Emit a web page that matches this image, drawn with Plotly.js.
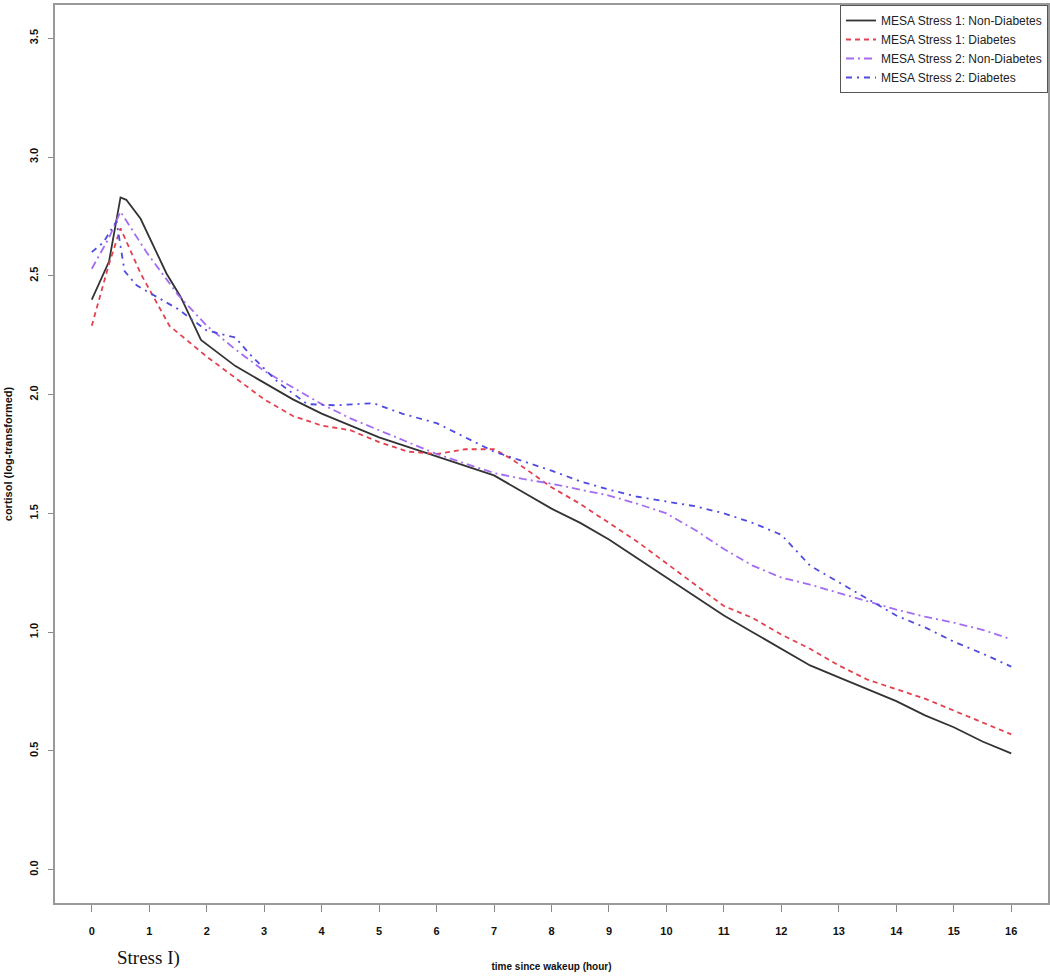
<!DOCTYPE html>
<html>
<head>
<meta charset="utf-8">
<script src="https://cdn.plot.ly/plotly-3.0.1.min.js"></script>
<style>html,body{margin:0;padding:0;background:#fff;}#chart{width:1050px;height:976px;}</style>
</head>
<body>
<div id="chart"></div>
<script>
// Data
const seriesNames = [
  "MESA Stress 1: Non-Diabetes",
  "MESA Stress 1: Diabetes",
  "MESA Stress 2: Non-Diabetes",
  "MESA Stress 2: Diabetes"
];

const s1NonDiabT = [0,0.3,0.5,0.6,0.85,1.3,1.55,1.9,2.5,3,3.5,4,4.5,5,5.5,6,6.5,7,7.5,8,8.5,9,9.5,10,10.5,11,11.5,12,12.5,13,13.5,14,14.5,15,15.5,16];
const s1NonDiabV = [2.40,2.56,2.83,2.82,2.74,2.51,2.41,2.23,2.12,2.05,1.98,1.92,1.87,1.82,1.78,1.74,1.70,1.66,1.59,1.52,1.46,1.39,1.31,1.23,1.15,1.07,1.00,0.93,0.86,0.81,0.76,0.71,0.65,0.60,0.54,0.49];

const s1DiabT = [0,0.3,0.5,0.85,1.35,2,2.5,3,3.5,4,4.5,5,5.5,6,6.5,7,7.3,7.6,8,8.5,9,9.5,10,10.5,11,11.5,12,12.5,13,13.5,14,14.5,15,15.5,16];
const s1DiabV = [2.29,2.55,2.70,2.51,2.29,2.16,2.07,1.98,1.91,1.87,1.85,1.80,1.76,1.75,1.77,1.77,1.73,1.68,1.61,1.54,1.46,1.38,1.29,1.20,1.11,1.06,0.99,0.93,0.86,0.80,0.76,0.72,0.67,0.62,0.57];

const s2NonDiabT = [0,0.3,0.5,0.95,1.5,2,2.5,3,3.5,4,4.5,5,5.5,6,6.5,7,7.5,8,8.5,9,9.5,10,10.5,11,11.5,12,12.5,13,13.5,14,14.5,15,15.5,16];
const s2NonDiabV = [2.53,2.66,2.77,2.60,2.42,2.29,2.19,2.10,2.03,1.96,1.90,1.85,1.80,1.75,1.71,1.67,1.645,1.625,1.60,1.575,1.54,1.50,1.43,1.35,1.28,1.23,1.20,1.165,1.13,1.095,1.065,1.04,1.01,0.97];

const s2DiabT = [0,0.2,0.43,0.57,0.78,1,1.5,2,2.5,2.75,3.25,3.75,4.25,4.9,5.4,6,6.5,7,7.5,8,8.5,9,9.5,10,10.5,11,11.5,12,12.5,13,13.5,14,14.5,15,15.5,16];
const s2DiabV = [2.60,2.64,2.73,2.52,2.46,2.43,2.36,2.27,2.24,2.17,2.05,1.96,1.955,1.964,1.92,1.88,1.82,1.76,1.72,1.68,1.635,1.60,1.57,1.55,1.53,1.50,1.46,1.41,1.28,1.21,1.14,1.07,1.02,0.96,0.91,0.855];

const xTicks = [0,1,2,3,4,5,6,7,8,9,10,11,12,13,14,15,16];
const yTicks = [0,0.5,1,1.5,2,2.5,3,3.5];
const yTickText = ["0.0","0.5","1.0","1.5","2.0","2.5","3.0","3.5"];

const traces = [
  {x: s1NonDiabT, y: s1NonDiabV, name: seriesNames[0], mode: "lines",
   line: {color: "#333333", width: 1.8, dash: "solid"}},
  {x: s1DiabT, y: s1DiabV, name: seriesNames[1], mode: "lines",
   line: {color: "#e3414f", width: 1.8, dash: "5px,4px"}},
  {x: s2NonDiabT, y: s2NonDiabV, name: seriesNames[2], mode: "lines",
   line: {color: "#a46cf2", width: 1.8, dash: "8px,4px,2px,4px"}},
  {x: s2DiabT, y: s2DiabV, name: seriesNames[3], mode: "lines",
   line: {color: "#4f4be0", width: 1.8, dash: "6px,5px,2px,5px"}}
];

const tickFont = {family: "Liberation Sans, Arial, sans-serif", size: 11, color: "#111", weight: "bold"};

const layout = {
  width: 1050, height: 976,
  margin: {l: 55, r: 2, t: 5, b: 73},
  paper_bgcolor: "#fff", plot_bgcolor: "#fff",
  showlegend: true,
  legend: {
    x: 1, y: 1, xanchor: "right", yanchor: "top",
    bgcolor: "#fff", bordercolor: "#555", borderwidth: 1,
    font: {family: "Liberation Sans, Arial, sans-serif", size: 12, color: "#222"},
    tracegroupgap: 0
  },
  xaxis: {
    range: [-0.64, 16.64], tickvals: xTicks, ticktext: xTicks.map(String),
    ticks: "outside", ticklen: 7, tickwidth: 1, tickcolor: "#888",
    showline: true, mirror: true, linecolor: "#999", linewidth: 2,
    showgrid: false, zeroline: false, tickfont: tickFont,
    ticklabelstandoff: 10,
    title: {text: "time since wakeup (hour)", standoff: 27,
            font: {family: "Liberation Sans, Arial, sans-serif", size: 10, color: "#111", weight: "bold"}}
  },
  yaxis: {
    range: [-0.14, 3.64], tickvals: yTicks, ticktext: yTickText, tickangle: -90,
    ticks: "outside", ticklen: 5, tickwidth: 1, tickcolor: "#888",
    showline: true, mirror: true, linecolor: "#999", linewidth: 2,
    showgrid: false, zeroline: false, tickfont: tickFont,
    ticklabelstandoff: 6,
    title: {text: "cortisol (log-transformed)", standoff: 13,
            font: {family: "Liberation Sans, Arial, sans-serif", size: 11, color: "#111", weight: "bold"}}
  },
  annotations: [
    {text: "Stress I)", xref: "paper", yref: "paper", x: 0.0604, y: -0.0612,
     xanchor: "left", yanchor: "middle", showarrow: false,
     font: {family: "Liberation Serif, Times New Roman, serif", size: 19, color: "#111"}}
  ]
};

Plotly.newPlot("chart", traces, layout, {displayModeBar: false, staticPlot: true});
</script>
</body>
</html>
